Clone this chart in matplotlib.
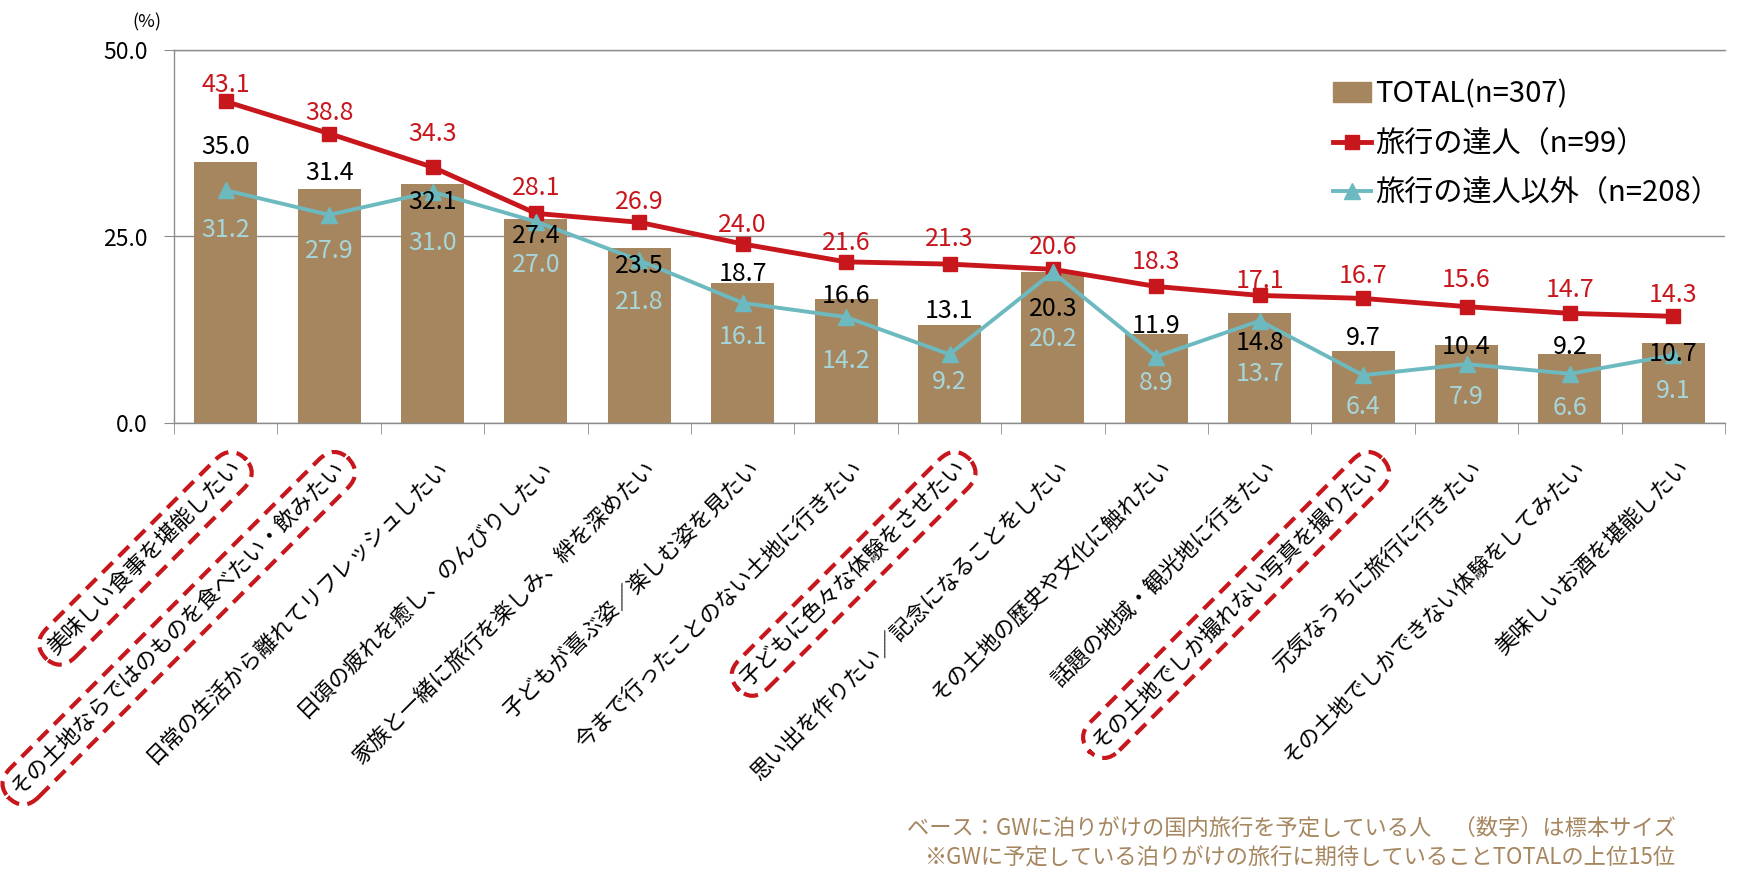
import numpy as np
import matplotlib
matplotlib.use('Agg')
import matplotlib.pyplot as plt
from matplotlib.lines import Line2D
from matplotlib.patches import Patch

plt.rcParams['font.family'] = ['Noto Sans CJK JP', 'DejaVu Sans']

# ===== データ =====
categories = [
    '美味しい食事を堪能したい',
    'その土地ならではのものを食べたい・飲みたい',
    '日常の生活から離れてリフレッシュしたい',
    '日頃の疲れを癒し、のんびりしたい',
    '家族と一緒に旅行を楽しみ、絆を深めたい',
    '子どもが喜ぶ姿／楽しむ姿を見たい',
    '今まで行ったことのない土地に行きたい',
    '子どもに色々な体験をさせたい',
    '思い出を作りたい／記念になることをしたい',
    'その土地の歴史や文化に触れたい',
    '話題の地域・観光地に行きたい',
    'その土地でしか撮れない写真を撮りたい',
    '元気なうちに旅行に行きたい',
    'その土地でしかできない体験をしてみたい',
    '美味しいお酒を堪能したい',
]
total = [35.0, 31.4, 32.1, 27.4, 23.5, 18.7, 16.6, 13.1, 20.3, 11.9, 14.8, 9.7, 10.4, 9.2, 10.7]
tatsujin = [43.1, 38.8, 34.3, 28.1, 26.9, 24.0, 21.6, 21.3, 20.6, 18.3, 17.1, 16.7, 15.6, 14.7, 14.3]
igai = [31.2, 27.9, 31.0, 27.0, 21.8, 16.1, 14.2, 9.2, 20.2, 8.9, 13.7, 6.4, 7.9, 6.6, 9.1]
highlight = [0, 1, 7, 11]  # 赤い点線で囲む項目

legend_labels = ['TOTAL(n=307)', '旅行の達人（n=99）', '旅行の達人以外（n=208）']

# ラベルの縦方向オフセット (px, 上が正)
total_dy = [15, 16, -18, -17, -18, 9, 3, 14, -37, 8, -30, 13, -2, 7, -11]
tatsujin_dy = [16, 21, 33, 25, 20, 19, 19, 25, 22, 24, 14, 22, 27, 23, 21]
igai_dy = [-40, -36, -51, -43, -42, -34, -44, -28, -67, -26, -53, -32, -33, -34, -36]

BROWN = '#A6865F'
RED = '#C8161D'
TEAL = '#6CBAC0'
TEAL_TXT = '#A6D6DA'
GRID = '#8C8C8C'

# ===== 描画 =====
fig = plt.figure(figsize=(17.47, 8.88), dpi=100)
ax = fig.add_axes([174 / 1747, 1 - 423 / 888, 1551 / 1747, 373 / 888])

x = np.arange(len(categories))
ax.bar(x, total, width=0.61, color=BROWN, zorder=2)
ax.plot(x, tatsujin, color=RED, lw=3.5, marker='s', ms=10, zorder=3)
ax.plot(x, igai, color=TEAL, lw=2.8, marker='^', ms=11, zorder=4)

ax.set_xlim(-0.5, len(categories) - 0.5)
ax.set_ylim(0, 50)
ax.set_yticks([0, 25, 50])
ax.set_yticklabels(['0.0', '25.0', '50.0'])
ax.tick_params(axis='y', length=7, color=GRID, labelsize=16.5, pad=12)
ax.yaxis.grid(True, color=GRID, lw=1)
ax.set_axisbelow(True)

ax.set_xticks(x)
ax.tick_params(axis='x', which='major', length=0, labelbottom=False)
ax.set_xticks(np.arange(-0.5, len(categories), 1), minor=True)
ax.tick_params(axis='x', which='minor', length=8, color=GRID, direction='out')

ax.spines['right'].set_visible(False)
for s in ['left', 'bottom', 'top']:
    ax.spines[s].set_color(GRID)
    ax.spines[s].set_linewidth(1)

# データラベル
for i in range(len(categories)):
    ax.annotate(f'{total[i]:.1f}', (x[i], total[i]), xytext=(0, total_dy[i]),
                textcoords='offset pixels', ha='center', va='center',
                fontsize=18, color='black', zorder=6)
    ax.annotate(f'{tatsujin[i]:.1f}', (x[i], tatsujin[i]), xytext=(0, tatsujin_dy[i]),
                textcoords='offset pixels', ha='center', va='center',
                fontsize=18, color=RED, zorder=6)
    ax.annotate(f'{igai[i]:.1f}', (x[i], igai[i]), xytext=(0, igai_dy[i]),
                textcoords='offset pixels', ha='center', va='center',
                fontsize=18, color=TEAL_TXT, zorder=6)

# 項目ラベル (45度回転)
for i, cat in enumerate(categories):
    bbox = None
    if i in highlight:
        bbox = dict(boxstyle='round,pad=0.42,rounding_size=1.0', fc='none',
                    ec=RED, ls=(0, (3.5, 2)), lw=3)
    ax.annotate(cat, xy=(x[i], 0), xycoords=('data', 'axes fraction'),
                xytext=(13, -42), textcoords='offset pixels',
                rotation=45, rotation_mode='anchor', ha='right', va='center',
                fontsize=15.8, color='black', annotation_clip=False, bbox=bbox)

fig.text(147 / 1747, 1 - 22 / 888, '(%)', ha='center', va='center', fontsize=13)

# 凡例
handles = [
    Patch(color=BROWN),
    Line2D([], [], color=RED, lw=3.5, marker='s', ms=10),
    Line2D([], [], color=TEAL, lw=2.8, marker='^', ms=11),
]
fig.legend(handles, legend_labels, loc='upper left',
           bbox_to_anchor=(1333 / 1747, 1 - 79 / 888), frameon=False,
           fontsize=21, handlelength=1.3, handletextpad=0.15,
           labelspacing=0.68, borderpad=0, borderaxespad=0)

# 注記
fig.text(1676 / 1747, 1 - 828 / 888,
         'ベース：GWに泊りがけの国内旅行を予定している人　（数字）は標本サイズ',
         ha='right', va='center', fontsize=16, color=BROWN)
fig.text(1676 / 1747, 1 - 858 / 888,
         '※GWに予定している泊りがけの旅行に期待していることTOTALの上位15位',
         ha='right', va='center', fontsize=16, color=BROWN)

fig.savefig('out.png', dpi=100)
